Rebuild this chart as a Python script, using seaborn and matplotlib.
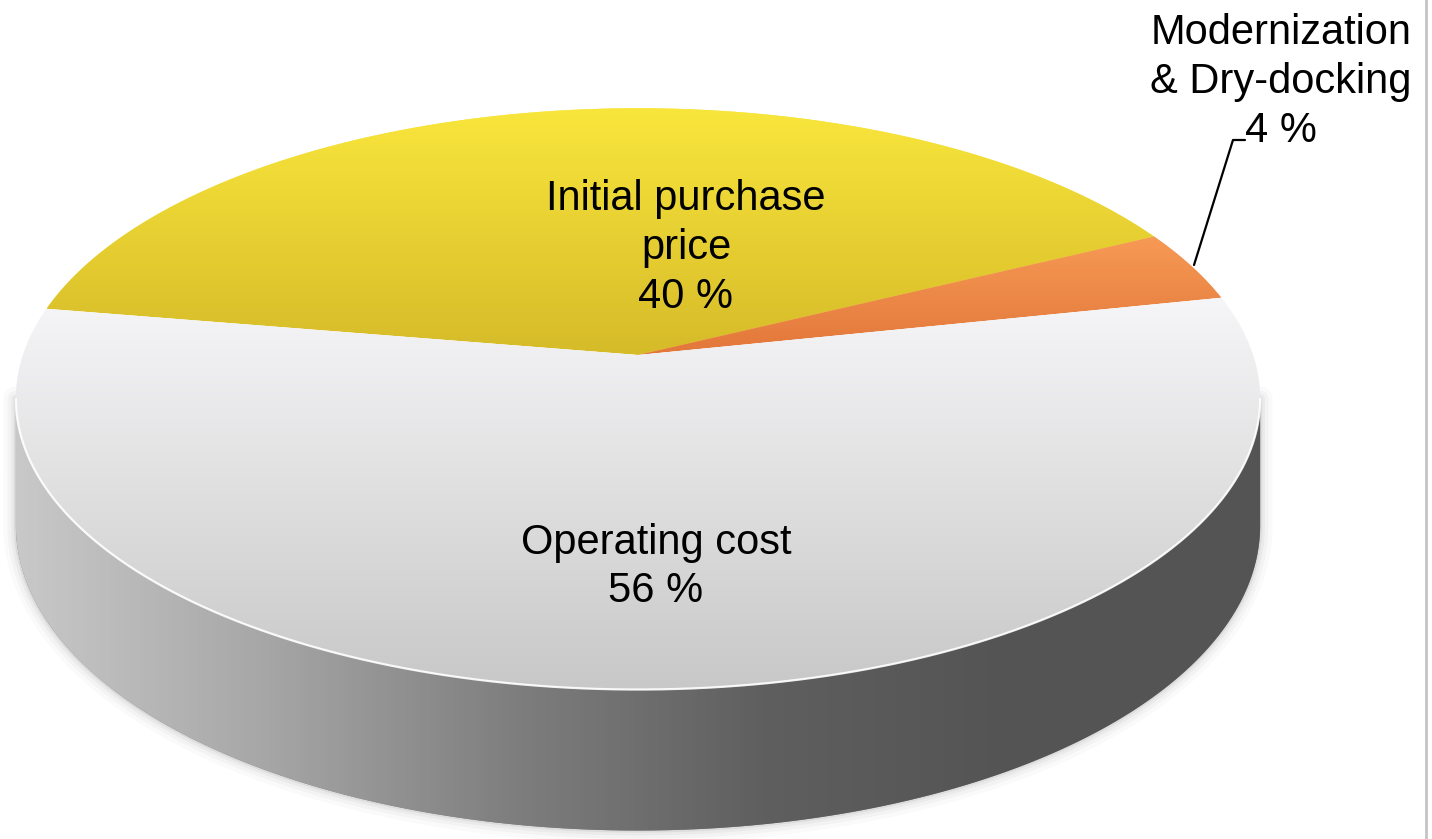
import numpy as np
import matplotlib
matplotlib.use("Agg")
import matplotlib.pyplot as plt
from matplotlib.patches import Polygon
from matplotlib.colors import LinearSegmentedColormap
import seaborn as sns

# ---- data -------------------------------------------------------------
categories = ["Initial purchase\nprice", "Modernization\n& Dry-docking", "Operating cost"]
shares = [40, 4, 56]
label_texts = [f"{c}\n{v} %" for c, v in zip(categories, shares)]

# top-face colours of each slice (light edge, shaded edge)
face_light = ["#f9e63c", "#f79a55", "#f6f6f8"]
face_dark = ["#d6bb29", "#e2773a", "#c8c8c8"]
side_colors = ["#c8c8c8", "#a6a6a6", "#7e7e7e", "#5f5f5f", "#545454", "#545454"]

sns.set_theme(style="white")
plt.rcParams["font.family"] = ["Liberation Sans", "DejaVu Sans"]

W, H = 1432, 839
fig = plt.figure(figsize=(W / 100, H / 100), dpi=100)
ax = fig.add_axes([0, 0, 1, 1])
ax.set_xlim(0, W)
ax.set_ylim(H, 0)
ax.axis("off")

# ---- perspective disc ------------------------------------------------
XC, YC = 638, 355          # projected centre of the disc
A, B, K = 615, 284, 0.151  # horizontal / vertical radius, perspective factor
DEPTH = 141                # thickness of the pie at the front
START = 170.4              # angle of the first slice edge (deg), slices run clockwise


def project(theta_deg, r=1.0, drop=0.0):
    t = np.radians(theta_deg)
    u, w = r * np.cos(t), r * np.sin(t)
    s = 1 + K * w
    # wall height shrinks a little towards the back of the disc
    return XC + A * u / s, YC - B * w / s + drop * (1 - 0.12 * (w + 1))


def gradient_fill(patch, colors, extent, vertical=True, z=2):
    cmap = LinearSegmentedColormap.from_list("grad", colors)
    g = np.linspace(0, 1, 256)
    img = g[:, None] if vertical else g[None, :]
    im = ax.imshow(img, cmap=cmap, extent=extent, aspect="auto",
                   origin="upper", zorder=z, interpolation="bilinear")
    im.set_clip_path(patch)


# ---- side wall -------------------------------------------------------
sil = np.degrees(np.arcsin(-K))            # silhouette angle on the right
th_front = np.linspace(-180 - sil, sil, 400)
top_x, top_y = project(th_front)
bot_x, bot_y = project(th_front, drop=DEPTH)
side_xy = np.column_stack([np.r_[top_x, bot_x[::-1]], np.r_[top_y, bot_y[::-1]]])

# soft drop shadow around the wall
for lw, a in [(18, 0.02), (12, 0.03), (7, 0.045), (3, 0.07)]:
    ax.plot(np.r_[top_x[0], bot_x, top_x[-1]], np.r_[top_y[0], bot_y, top_y[-1]],
            color="#303030", lw=lw, alpha=a, solid_capstyle="round", zorder=1)

side_patch = Polygon(side_xy, closed=True, facecolor=side_colors[2],
                     edgecolor="none", zorder=2)
ax.add_patch(side_patch)
gradient_fill(side_patch, side_colors,
              (side_xy[:, 0].min(), side_xy[:, 0].max(), H, 0), vertical=False, z=2)

# ---- top face slices -------------------------------------------------
edges = START - np.r_[0, np.cumsum(shares)] / sum(shares) * 360
for i, v in enumerate(shares):
    th = np.linspace(edges[i], edges[i + 1], 300)
    ax_, ay_ = project(th)
    xy = np.column_stack([np.r_[XC, ax_], np.r_[YC, ay_]])
    patch = Polygon(xy, closed=True, facecolor=face_light[i], edgecolor="none", zorder=3)
    ax.add_patch(patch)
    y0, y1 = xy[:, 1].min(), xy[:, 1].max()
    gradient_fill(patch, [face_light[i], face_dark[i]],
                  (xy[:, 0].min(), xy[:, 0].max(), y1, y0), vertical=True, z=3)

# light rim between top face and wall
ax.plot(top_x, top_y, color="white", lw=1.6, alpha=0.9, zorder=4)

# ---- labels ----------------------------------------------------------
label_pos = [(686, 248), (1281, 82), (656, 567)]
for (lx, ly), txt in zip(label_pos, label_texts):
    ax.text(lx, ly, txt, ha="center", va="center", fontsize=30,
            color="black", linespacing=1.28, zorder=6)

# leader line for the small slice
ax.plot([1194, 1233, 1245], [265, 140, 140], color="black", lw=1.6, zorder=6)

# frame line on the right edge
ax.plot([1426, 1426], [0, H], color="#c4c4c4", lw=2, zorder=0)

ax.set_xlim(0, W)
ax.set_ylim(H, 0)
fig.savefig("out.png", dpi=100, facecolor="white")
